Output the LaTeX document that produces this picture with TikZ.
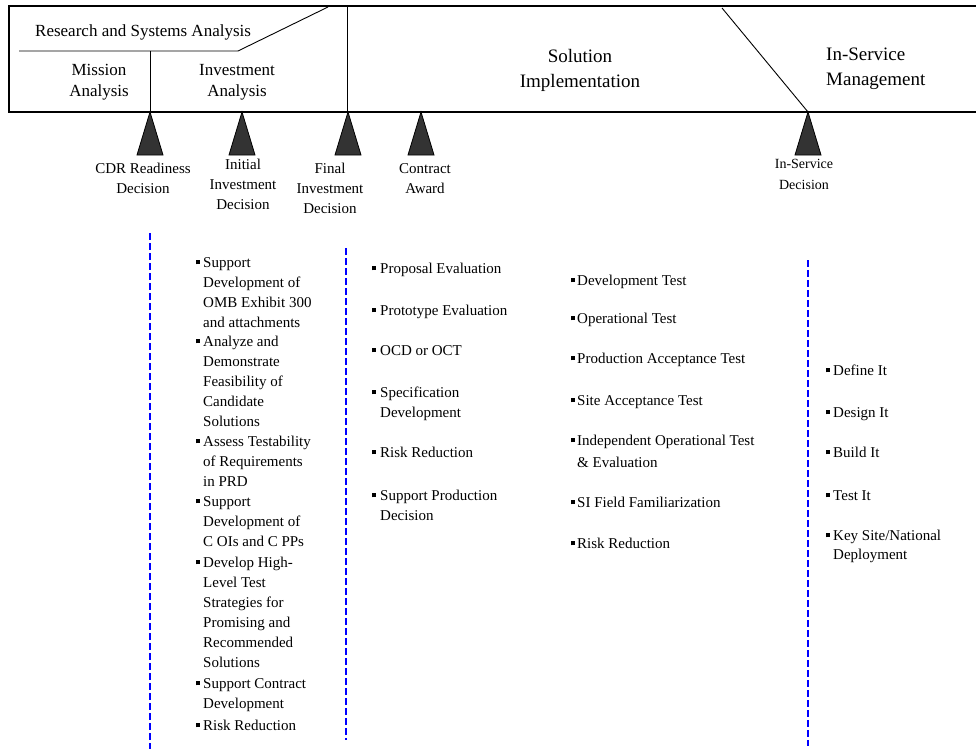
\documentclass[tikz,border=0pt]{standalone}
\usepackage{fontspec}
\setmainfont{Liberation Serif}
\newcommand\sqbul{\rule[2.6pt]{4pt}{4pt}}
\newcommand\itemtext[2]{\llap{\sqbul\hspace{#1}}#2}
\begin{document}
% multi-line nodes are placed by the baseline of their last line
\begin{tikzpicture}[x=1pt,y=-1pt,
  frame/.style={line width=1.6pt},
  divider/.style={line width=0.9pt},
  milestone/.style={fill=black!80, draw=black, line width=0.8pt},
  phase/.style={font=\fontsize{17}{21}\selectfont, align=center, inner sep=0pt, anchor=base},
  phasebig/.style={font=\fontsize{19}{25}\selectfont, inner sep=0pt},
  gate/.style={font=\fontsize{15}{20}\selectfont, align=center, inner sep=0pt, anchor=base},
  items/.style={font=\fontsize{15}{20}\selectfont, align=left, inner sep=0pt, anchor=base west},
  lane/.style={draw=blue, line width=2.6pt, dash pattern=on 7pt off 3pt}
]
\useasboundingbox (0,0) rectangle (976,749);

% ---- phase band ----
\draw[frame] (980,6) -- (9,6) -- (9,112) -- (980,112);
\draw[divider] (19,51) -- (238,51) -- (328,7);
\draw[divider] (150,51) -- (150,112);
\draw[divider] (347,6) -- (347,112);
\draw[divider] (722,8) -- (808,112);

\node[phase, anchor=base west] (rsa) at (35,37) {Research and Systems Analysis};
\node[phase] (mission) at (99,97) {Mission\\Analysis};
\node[phase] (invest) at (237,97) {Investment\\Analysis};
\node[phasebig, align=center, anchor=base] (solution) at (580,88) {Solution\\Implementation};
\node[phasebig, align=left, anchor=base west] (ism) at (826,86) {In-Service\\Management};

% ---- decision milestones ----
\coordinate (m1) at (150,112);
\coordinate (m2) at (242,112);
\coordinate (m3) at (348,112);
\coordinate (m4) at (421,112);
\coordinate (m5) at (808,112);
\foreach \m in {m1,m2,m3,m4,m5}
  \filldraw[milestone] (\m) -- ++(-13,43) -- ++(26,0) -- cycle;

\node[gate] (cdr) at (143,193) {CDR Readiness\\Decision};
\node[gate] (iid) at (243,209) {Initial\\Investment\\Decision};
\node[gate] (fid) at (330,213) {Final\\Investment\\Decision};
\node[gate] (award) at (425,193) {Contract\\Award};
\node[gate, font=\fontsize{14}{21}\selectfont] (isd) at (804,189) {In-Service\\Decision};

% ---- swim-lane separators ----
\coordinate (l1a) at (150,233); \coordinate (l1b) at (150,749);
\coordinate (l2a) at (346,248); \coordinate (l2b) at (346,740);
\coordinate (l3a) at (808,260); \coordinate (l3b) at (808,746);
\draw[lane] (l1a) -- (l1b);
\draw[lane] (l2a) -- (l2b);
\draw[lane] (l3a) -- (l3b);

% ---- activities: investment analysis ----
\node[items] (a1) at (203,327) {\itemtext{3pt}{Support}\\Development of\\OMB Exhibit 300\\and attachments};
\node[items] (a2) at (203,426) {\itemtext{3pt}{Analyze and}\\Demonstrate\\Feasibility of\\Candidate\\Solutions};
\node[items] (a3) at (203,486) {\itemtext{3pt}{Assess Testability}\\of Requirements\\in PRD};
\node[items] (a4) at (203,546) {\itemtext{3pt}{Support}\\Development of\\C OIs and C PPs};
\node[items] (a5) at (203,667) {\itemtext{3pt}{Develop High-}\\Level Test\\Strategies for\\Promising and\\Recommended\\Solutions};
\node[items] (a6) at (203,708) {\itemtext{3pt}{Support Contract}\\Development};
\node[items] (a7) at (203,730) {\itemtext{3pt}{Risk Reduction}};

% ---- activities: solution implementation (acquisition) ----
\node[items] (b1) at (380,273) {\itemtext{4pt}{Proposal Evaluation}};
\node[items] (b2) at (380,315) {\itemtext{4pt}{Prototype Evaluation}};
\node[items] (b3) at (380,355) {\itemtext{4pt}{OCD or OCT}};
\node[items] (b4) at (380,417) {\itemtext{4pt}{Specification}\\Development};
\node[items] (b5) at (380,457) {\itemtext{4pt}{Risk Reduction}};
\node[items] (b6) at (380,520) {\itemtext{4pt}{Support Production}\\Decision};

% ---- activities: solution implementation (test) ----
\node[items] (c1) at (577,285) {\itemtext{2pt}{Development Test}};
\node[items] (c2) at (577,323) {\itemtext{2pt}{Operational Test}};
\node[items] (c3) at (577,363) {\itemtext{2pt}{Production Acceptance Test}};
\node[items] (c4) at (577,405) {\itemtext{2pt}{Site Acceptance Test}};
\node[items, font=\fontsize{15}{22}\selectfont] (c5) at (577,467) {\itemtext{2pt}{Independent Operational Test}\\\& Evaluation};
\node[items] (c6) at (577,507) {\itemtext{2pt}{SI Field Familiarization}};
\node[items] (c7) at (577,548) {\itemtext{2pt}{Risk Reduction}};

% ---- activities: in-service management ----
\node[items] (d1) at (833,375) {\itemtext{3pt}{Define It}};
\node[items] (d2) at (833,417) {\itemtext{3pt}{Design It}};
\node[items] (d3) at (833,457) {\itemtext{3pt}{Build It}};
\node[items] (d4) at (833,500) {\itemtext{3pt}{Test It}};
\node[items, font=\fontsize{15}{19}\selectfont] (d5) at (833,559) {\itemtext{3pt}{Key Site/National}\\Deployment};
\end{tikzpicture}
\end{document}
